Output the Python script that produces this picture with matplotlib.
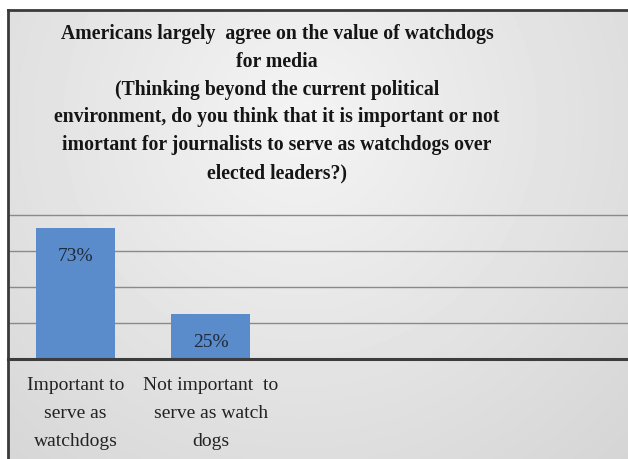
import matplotlib.pyplot as plt
import numpy as np
from matplotlib.lines import Line2D

# survey answers
categories = ["Important to\nserve as\nwatchdogs", "Not important  to\nserve as watch\ndogs"]
shares = [73, 25]
gridlevels = [20, 40, 60, 80]
title = ("Americans largely  agree on the value of watchdogs\nfor media\n"
         "(Thinking beyond the current political\n"
         "environment, do you think that it is important or not\n"
         "imortant for journalists to serve as watchdogs over\n"
         "elected leaders?)")

W, H = 628, 460
plt.rcParams['font.family'] = ['Liberation Serif', 'DejaVu Serif']

fig = plt.figure(figsize=(W / 100, H / 100), dpi=100)
fig.patch.set_facecolor("white")

# grey radial backdrop of the chart area
bx, by = 8, 11
bg = fig.add_axes([bx / W, 0, (W - bx) / W, (H - by) / H])
yy, xx = np.mgrid[by:H, bx:W]
dist = np.hypot(xx - 300, yy - 120)
shade = 0.955 - 0.12 * dist / 470
bg.imshow(shade, cmap="gray", vmin=0, vmax=1, aspect="auto", interpolation="bilinear")
bg.axis("off")

# dark frame on the top and left
fig.add_artist(Line2D([bx / W, 1], [1 - by / H, 1 - by / H], color="#3a3a3a", lw=2))
fig.add_artist(Line2D([bx / W, bx / W], [0, 1 - by / H], color="#3a3a3a", lw=2))

ax = fig.add_axes([bx / W, 100 / H, (W - bx) / W, 160 / H])
ax.set_facecolor("none")
bars = ax.bar(range(len(shares)), shares, width=0.59, color="#5a8bca", zorder=3)
for b, v in zip(bars, shares):
    ax.annotate(f"{v}%", (b.get_x() + b.get_width() / 2, v), xytext=(0, -14),
                textcoords="offset points", ha="center", va="top",
                fontsize=14, color="#1f2a3a", zorder=4)

ax.set_xlim(-0.5, 4.09)
ax.set_ylim(0, 88.9)
ax.set_yticks(gridlevels)
ax.set_yticklabels([])
ax.tick_params(axis="y", length=0)
ax.grid(axis="y", color="#8a8a8a", lw=1, zorder=1)
ax.set_xticks(range(len(categories)))
ax.set_xticklabels(categories, fontsize=14, color="#222222", linespacing=1.85)
ax.tick_params(axis="x", length=0, pad=12)
for s in ["top", "right", "left"]:
    ax.spines[s].set_visible(False)
ax.spines["bottom"].set_color("#3c3c3c")
ax.spines["bottom"].set_linewidth(2.2)
ax.spines["bottom"].set_zorder(5)

fig.text(277 / W, 1 - 24 / H, title, ha="center", va="top", fontsize=14.2,
         fontweight="bold", color="#151515", linespacing=1.52)

fig.savefig("out.png", dpi=100)
